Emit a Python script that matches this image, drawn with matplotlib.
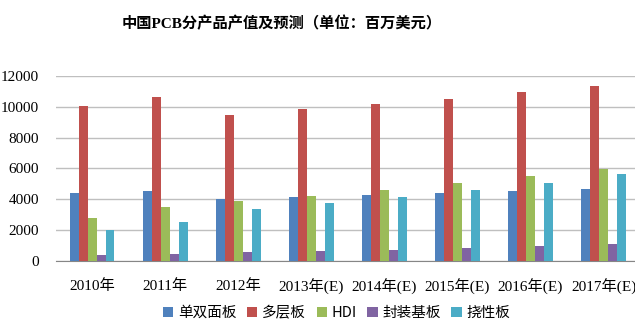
import matplotlib.pyplot as plt
import numpy as np

plt.rcParams['font.family'] = ['Liberation Serif', 'Noto Sans CJK SC']

years = ['2010年', '2011年', '2012年', '2013年(E)', '2014年(E)',
         '2015年(E)', '2016年(E)', '2017年(E)']
single_double = [4410, 4540, 4020, 4150, 4280, 4410, 4540, 4650]
multilayer = [10050, 10640, 9470, 9840, 10180, 10530, 10960, 11350]
hdi = [2790, 3500, 3890, 4220, 4610, 5020, 5510, 5990]
substrate = [360, 450, 580, 650, 710, 840, 930, 1080]
flexible = [2010, 2530, 3390, 3760, 4150, 4610, 5060, 5640]

series = [single_double, multilayer, hdi, substrate, flexible]
names = ['单双面板', '多层板', 'HDI', '封装基板', '挠性板']
colors = ['#4F81BD', '#C0504D', '#9BBB59', '#8064A2', '#4BACC6']

fig = plt.figure(figsize=(6.35, 3.26), dpi=100)
ax = fig.add_axes([0.088, 0.2, 0.92, 0.567])

x = np.arange(len(years))
w = 0.123
for i, (vals, name, c) in enumerate(zip(series, names, colors)):
    ax.bar(x + (i - 2) * w, vals, width=w * 0.92, color=c, label=name, zorder=3)

ax.set_xlim(-0.5, len(years) - 0.5)
ax.set_ylim(0, 12000)
ax.set_yticks(range(0, 12001, 2000))
ax.yaxis.grid(True, color='#BFBFBF', linewidth=1, zorder=0)
ax.set_xticks(x)
ax.set_xticklabels(years, fontsize=11)
ax.tick_params(axis='y', labelsize=11, length=0, pad=12)
ax.tick_params(axis='x', length=0, pad=13)
for s in ['top', 'right', 'left']:
    ax.spines[s].set_visible(False)
ax.spines['bottom'].set_color('#868686')

fig.text(0.443, 0.928, '中国PCB分产品产值及预测（单位：百万美元）', ha='center', va='center',
         fontsize=11, fontweight='bold')

leg = fig.legend(loc='center', bbox_to_anchor=(0.53, 0.04), ncol=5, frameon=False,
                 prop={'family': 'Noto Sans CJK SC', 'size': 10.5},
                 handlelength=0.7, handleheight=0.7, handletextpad=0.3, columnspacing=0.75)

fig.savefig('out.png', dpi=100)
